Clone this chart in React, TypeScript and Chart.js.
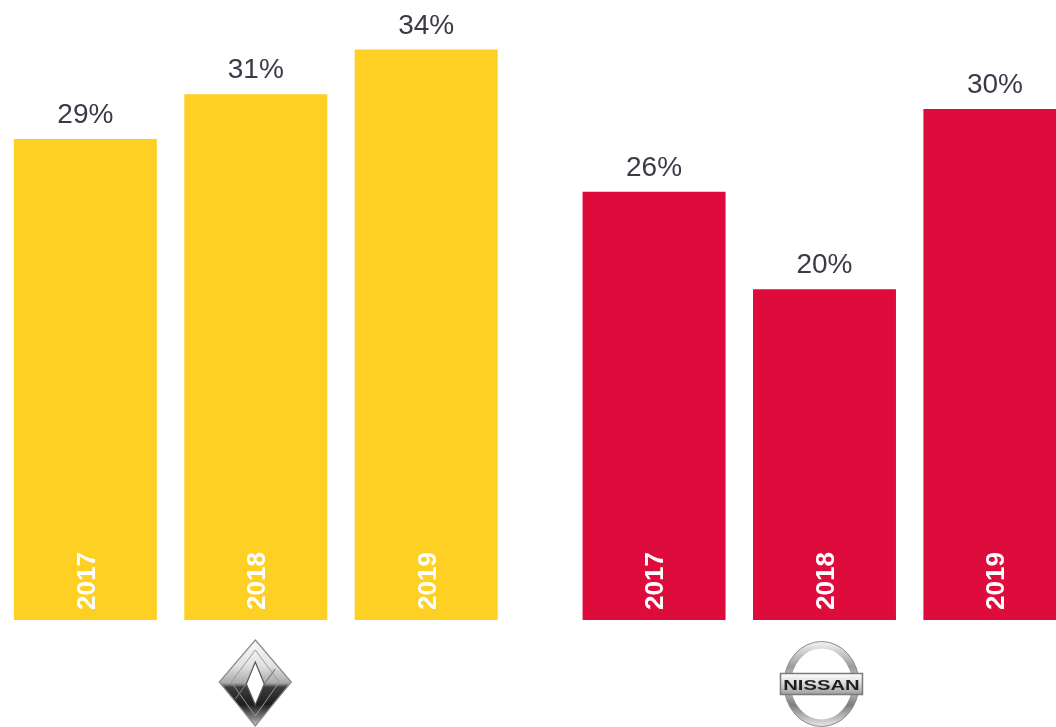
import React, { useEffect, useRef } from "react";
import { Chart, registerables } from "chart.js";

Chart.register(...registerables);

const groupNames = ["Renault", "Nissan"];
const years = ["2017", "2018", "2019"];
const renaultValues = [29.1, 31.8, 34.5];
const nissanValues = [25.9, 20.0, 30.9];
const renaultLabels = ["29%", "31%", "34%"];
const nissanLabels = ["26%", "20%", "30%"];
const groupColors = ["#FDD023", "#DE0B3D"];

const seriesByGroup = [renaultValues, nissanValues];
const labelsByGroup = [renaultLabels, nissanLabels];

function drawRenault(ctx: CanvasRenderingContext2D, cx: number, cy: number) {
  const hw = 36, hh = 43;
  ctx.save();
  const g = ctx.createLinearGradient(0, cy - hh, 0, cy + hh);
  g.addColorStop(0, "#fafafa");
  g.addColorStop(0.3, "#e2e2e2");
  g.addColorStop(0.5, "#a9a9a9");
  g.addColorStop(0.55, "#3c3c3c");
  g.addColorStop(0.75, "#1e1e1e");
  g.addColorStop(0.9, "#7a7a7a");
  g.addColorStop(1, "#c8c8c8");
  ctx.beginPath();
  ctx.moveTo(cx, cy - hh);
  ctx.lineTo(cx + hw, cy - 1);
  ctx.lineTo(cx, cy + hh);
  ctx.lineTo(cx - hw, cy - 1);
  ctx.closePath();
  ctx.fillStyle = g;
  ctx.fill();
  ctx.strokeStyle = "#8a8a8a";
  ctx.lineWidth = 1.2;
  ctx.stroke();
  ctx.beginPath();
  ctx.moveTo(cx, cy - hh + 10);
  ctx.lineTo(cx + hw - 12, cy - 1);
  ctx.lineTo(cx, cy + hh - 10);
  ctx.lineTo(cx - hw + 12, cy - 1);
  ctx.closePath();
  ctx.strokeStyle = "#9a9a9a";
  ctx.lineWidth = 1;
  ctx.stroke();
  ctx.beginPath();
  ctx.moveTo(cx, cy - 21);
  ctx.lineTo(cx + 9, cy + 1);
  ctx.lineTo(cx, cy + 22);
  ctx.lineTo(cx - 9, cy + 1);
  ctx.closePath();
  ctx.fillStyle = "#ffffff";
  ctx.fill();
  ctx.strokeStyle = "#555";
  ctx.lineWidth = 1.2;
  ctx.stroke();
  ctx.beginPath();
  ctx.moveTo(cx + 9, cy + 1);
  ctx.lineTo(cx + 20, cy - 14);
  ctx.moveTo(cx - 9, cy + 1);
  ctx.lineTo(cx - 20, cy + 16);
  ctx.strokeStyle = "#777";
  ctx.stroke();
  ctx.restore();
}

function drawNissan(ctx: CanvasRenderingContext2D, cx: number, cy: number) {
  ctx.save();
  const rg = ctx.createLinearGradient(0, cy - 42, 0, cy + 42);
  rg.addColorStop(0, "#f2f2f2");
  rg.addColorStop(0.3, "#9a9a9a");
  rg.addColorStop(0.5, "#dcdcdc");
  rg.addColorStop(0.75, "#7d7d7d");
  rg.addColorStop(1, "#e6e6e6");
  ctx.beginPath();
  ctx.ellipse(cx, cy, 34, 39, 0, 0, Math.PI * 2);
  ctx.strokeStyle = rg;
  ctx.lineWidth = 7;
  ctx.stroke();
  ctx.beginPath();
  ctx.ellipse(cx, cy, 37.5, 42.5, 0, 0, Math.PI * 2);
  ctx.strokeStyle = "#8d8d8d";
  ctx.lineWidth = 1;
  ctx.stroke();
  const bw = 82, bh = 21;
  const bg = ctx.createLinearGradient(0, cy - bh / 2, 0, cy + bh / 2);
  bg.addColorStop(0, "#ffffff");
  bg.addColorStop(0.5, "#d8d8d8");
  bg.addColorStop(1, "#9c9c9c");
  ctx.fillStyle = bg;
  ctx.fillRect(cx - bw / 2, cy - bh / 2, bw, bh);
  ctx.strokeStyle = "#7a7a7a";
  ctx.lineWidth = 1.5;
  ctx.strokeRect(cx - bw / 2, cy - bh / 2, bw, bh);
  ctx.translate(cx, cy + 5.5);
  ctx.scale(1.35, 1);
  ctx.fillStyle = "#1f1f1f";
  ctx.font = "bold 15px 'Liberation Sans', Arial, sans-serif";
  ctx.textAlign = "center";
  ctx.textBaseline = "alphabetic";
  ctx.fillText("NISSAN", 0, 0);
  ctx.restore();
}

const labelPlugin = {
  id: "barLabels",
  afterDatasetsDraw(chart: any) {
    const ctx: CanvasRenderingContext2D = chart.ctx;
    const yScale = chart.scales.y;
    const xScale = chart.scales.x;
    const base = yScale.getPixelForValue(0);
    chart.data.datasets.forEach((ds: any, j: number) => {
      const meta = chart.getDatasetMeta(j);
      meta.data.forEach((bar: any, i: number) => {
        ctx.save();
        ctx.fillStyle = "#3a3a48";
        ctx.font = "28px 'Liberation Sans', Arial, sans-serif";
        ctx.textAlign = "center";
        ctx.textBaseline = "alphabetic";
        ctx.fillText(labelsByGroup[i][j], bar.x, bar.y - 16);
        ctx.restore();

        ctx.save();
        ctx.fillStyle = "#ffffff";
        ctx.font = "bold 26px 'Liberation Sans', Arial, sans-serif";
        ctx.translate(bar.x + 9.3, base - 10);
        ctx.rotate(-Math.PI / 2);
        ctx.textAlign = "left";
        ctx.textBaseline = "alphabetic";
        ctx.fillText(ds.label, 0, 0);
        ctx.restore();
      });
    });
    groupNames.forEach((name, i) => {
      const cx = xScale.getPixelForValue(i);
      if (name === "Renault") drawRenault(ctx, cx - 0.5, 683);
      else drawNissan(ctx, cx - 3, 684);
    });
  },
};

export default function App() {
  const ref = useRef<HTMLCanvasElement>(null);
  useEffect(() => {
    if (!ref.current) return;
    const datasets = years.map((year, j) => ({
      label: year,
      data: groupNames.map((_, i) => ({ x: i, y: seriesByGroup[i][j] })),
      backgroundColor: groupColors,
      borderWidth: 0,
      categoryPercentage: 0.899,
      barPercentage: 0.839,
    }));
    const chart = new Chart(ref.current, {
      type: "bar",
      data: { datasets },
      options: {
        animation: false,
        responsive: true,
        maintainAspectRatio: false,
        layout: { padding: { left: 0, right: 0, top: 0, bottom: 107 } },
        plugins: { legend: { display: false }, tooltip: { enabled: false } },
        scales: {
          x: {
            type: "linear",
            display: false,
            offset: false,
            min: -0.4498,
            max: 1.4071,
            ticks: { stepSize: 1, includeBounds: false },
            grid: { display: false, offset: false },
          },
          y: {
            display: false,
            min: 0,
            max: 37.5,
            grid: { display: false },
          },
        },
      },
      plugins: [labelPlugin],
    });
    return () => chart.destroy();
  }, []);
  return (
    <div style={{ position: "fixed", left: 0, top: 0, width: 1056, height: 727, background: "#ffffff" }}>
      <canvas ref={ref} />
    </div>
  );
}
